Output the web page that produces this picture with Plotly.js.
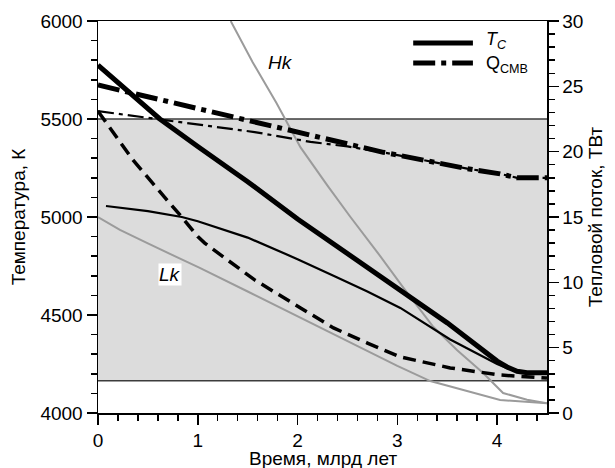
<!DOCTYPE html>
<html>
<head>
<meta charset="utf-8">
<script src="https://cdn.plot.ly/plotly-3.0.1.min.js"></script>
<style>html,body{margin:0;padding:0;background:#fff;}#chart{width:615px;height:468px;}</style>
</head>
<body>
<div id="chart"></div>
<script>
// Core temperature, model 1 (thick solid), K
const tc1Time = [0, 0.3, 0.62, 1.0, 1.5, 2.0, 2.5, 3.0, 3.5, 4.0, 4.1, 4.2, 4.3, 4.5];
const tc1Temp = [5775, 5640, 5500, 5360, 5180, 4990, 4815, 4638, 4460, 4265, 4235, 4213, 4205, 4205];
// Core temperature, model 2 (thin solid), K
const tc2Time = [0.08, 0.5, 0.84, 1.0, 1.5, 2.0, 2.36, 2.7, 3.03, 3.53, 4.0, 4.1, 4.2, 4.3, 4.5];
const tc2Temp = [5056, 5030, 5000, 4978, 4895, 4785, 4700, 4620, 4536, 4375, 4250, 4228, 4212, 4205, 4205];
// Dashed curve, K
const dashTime = [0, 0.35, 0.69, 0.84, 1.0, 1.07, 1.3, 1.57, 2.03, 2.36, 2.7, 3.03, 3.53, 4.03, 4.5];
const dashTemp = [5540, 5291, 5087, 5000, 4900, 4867, 4780, 4679, 4536, 4434, 4357, 4286, 4230, 4194, 4178];
// Heat flux at CMB, model 1 (thick dash-dot), TW
const q1Time = [0, 0.5, 1.0, 1.5, 2.03, 2.5, 2.86, 3.03, 3.36, 3.7, 4.03, 4.2, 4.5];
const q1Flux = [25.1, 24.2, 23.3, 22.35, 21.4, 20.6, 19.95, 19.7, 19.2, 18.7, 18.3, 18.0, 18.0];
// Heat flux at CMB, model 2 (thin dash-dot), TW
const q2Time = [0, 0.6, 1.0, 1.57, 2.13, 2.5, 2.86, 3.03, 3.36, 3.7, 4.03, 4.2, 4.5];
const q2Flux = [23.1, 22.5, 22.1, 21.5, 20.75, 20.4, 19.95, 19.7, 19.2, 18.7, 18.3, 18.0, 18.0];
// Gray curves, K
const hkTime = [1.33, 1.55, 1.79, 2.03, 2.3, 2.53, 2.8, 3.06, 3.36, 3.6, 3.86, 4.06, 4.3, 4.5];
const hkTemp = [6000, 5790, 5580, 5355, 5160, 5000, 4820, 4640, 4440, 4320, 4204, 4102, 4068, 4050];
const lkTime = [0, 0.22, 0.5, 1.02, 1.5, 2.13, 2.5, 3.0, 3.33, 3.55, 4.03, 4.5];
const lkTemp = [5000, 4934, 4865, 4740, 4620, 4459, 4365, 4240, 4163, 4133, 4066, 4050];
// Shaded band, K
const bandLow = 4165;
const bandHigh = 5500;
// Labels
const xTitle = 'Время, млрд лет';
const yTitle = 'Температура, К';
const y2Title = 'Тепловой поток, ТВт';
const legendTc = '<i>T</i><sub><i>C</i></sub>';
const legendQ = 'Q<sub>CMB</sub>';

const F = 'Liberation Sans, Arial, sans-serif';
const gray = '#9b9b9b';

const traces = [
  {x: lkTime, y: lkTemp, mode: 'lines', line: {color: gray, width: 2}, yaxis: 'y'},
  {x: hkTime, y: hkTemp, mode: 'lines', line: {color: gray, width: 2}, yaxis: 'y'},
  {x: tc2Time, y: tc2Temp, mode: 'lines', line: {color: '#000', width: 2.2}, yaxis: 'y'},
  {x: dashTime, y: dashTemp, mode: 'lines', line: {color: '#000', width: 3.5, dash: '13px,7px'}, yaxis: 'y'},
  {x: tc1Time, y: tc1Temp, mode: 'lines', line: {color: '#000', width: 5}, yaxis: 'y'},
  {x: q2Time, y: q2Flux, mode: 'lines', line: {color: '#000', width: 2.2, dash: '16px,5px,4px,5px'}, yaxis: 'y2'},
  {x: q1Time, y: q1Flux, mode: 'lines', line: {color: '#000', width: 5, dash: '22px,6px,5px,6px'}, yaxis: 'y2'}
];

const axisCommon = {
  showgrid: false, zeroline: false, showline: true, linecolor: '#000', linewidth: 1.5,
  ticks: 'outside', ticklen: 10, tickwidth: 1.5, tickcolor: '#000',
  tickfont: {family: F, size: 19, color: '#000'}
};

const layout = {
  width: 615, height: 468,
  margin: {l: 98, r: 68, t: 21, b: 55},
  paper_bgcolor: '#fff', plot_bgcolor: '#fff',
  showlegend: false,
  font: {family: F, size: 19, color: '#000'},
  xaxis: Object.assign({}, axisCommon, {
    range: [0, 4.5], dtick: 1, tick0: 0, mirror: true,
    minor: {dtick: 0.2, ticks: 'outside', ticklen: 6, tickwidth: 1.5, tickcolor: '#000'}
  }),
  yaxis: Object.assign({}, axisCommon, {
    range: [4000, 6000], dtick: 500, tick0: 4000,
    minor: {dtick: 100, ticks: 'outside', ticklen: 6, tickwidth: 1.5, tickcolor: '#000'},
    title: {text: yTitle, font: {family: F, size: 19}, standoff: 10}
  }),
  yaxis2: Object.assign({}, axisCommon, {
    range: [0, 30], dtick: 5, tick0: 0, overlaying: 'y', side: 'right',
    minor: {dtick: 1, ticks: 'outside', ticklen: 6, tickwidth: 1.5, tickcolor: '#000'},
    title: {text: y2Title, font: {family: F, size: 19}, standoff: 6}
  }),
  shapes: [
    {type: 'rect', xref: 'paper', yref: 'y', x0: 0, x1: 1, y0: bandLow, y1: bandHigh,
     fillcolor: '#dcdcdc', line: {width: 0}, layer: 'below'},
    {type: 'line', xref: 'paper', yref: 'y', x0: 0, x1: 1, y0: bandLow, y1: bandLow,
     line: {color: '#3c3c3c', width: 1.5}, layer: 'below'},
    {type: 'line', xref: 'paper', yref: 'y', x0: 0, x1: 1, y0: bandHigh, y1: bandHigh,
     line: {color: '#3c3c3c', width: 1.5}, layer: 'below'},
    {type: 'line', xref: 'paper', yref: 'paper', x0: 0.702, x1: 0.835, y0: 0.944, y1: 0.944,
     line: {color: '#000', width: 5}},
    {type: 'line', xref: 'paper', yref: 'paper', x0: 0.702, x1: 0.835, y0: 0.893, y1: 0.893,
     line: {color: '#000', width: 5, dash: '22px,6px,5px,6px'}}
  ],
  annotations: [
    {xref: 'paper', yref: 'paper', x: 0.5, y: 0, xanchor: 'center', yanchor: 'top', yshift: -33,
     text: xTitle, showarrow: false, font: {family: F, size: 19}},
    {xref: 'paper', yref: 'paper', x: 0.86, y: 0.95, xanchor: 'left', yanchor: 'middle',
     text: legendTc, showarrow: false, font: {family: F, size: 18}},
    {xref: 'paper', yref: 'paper', x: 0.86, y: 0.89, xanchor: 'left', yanchor: 'middle',
     text: legendQ, showarrow: false, font: {family: F, size: 18}},
    {xref: 'x', yref: 'y', x: 1.83, y: 5790, text: '<i>Hk</i>', showarrow: false,
     font: {family: F, size: 19}},
    {xref: 'x', yref: 'y', x: 0.72, y: 4709, text: '<i>Lk</i>', showarrow: false,
     bgcolor: '#fff', borderpad: 0, font: {family: F, size: 19}}
  ]
};

Plotly.newPlot('chart', traces, layout, {staticPlot: true, displayModeBar: false});
</script>
</body>
</html>
